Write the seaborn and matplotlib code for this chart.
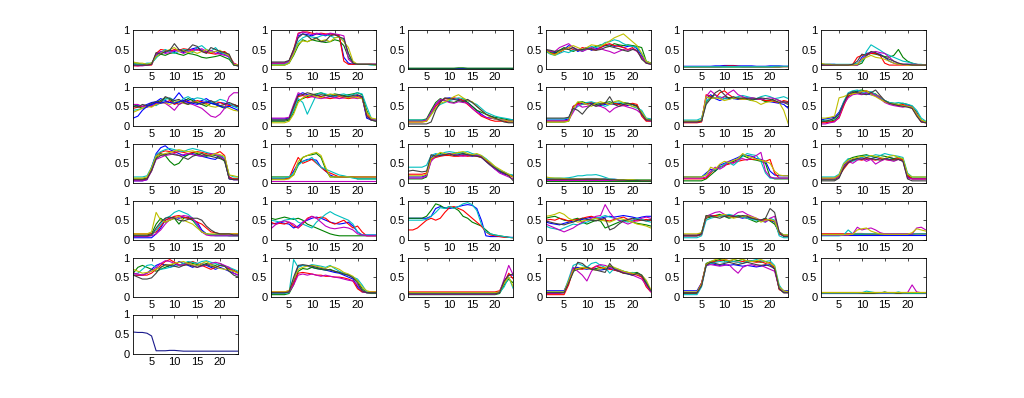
import numpy as np
import pandas as pd
import matplotlib
matplotlib.use('Agg')
import matplotlib.pyplot as plt
import seaborn as sns

#%% DATA
x_vals = list(range(1, 25))
x_ticks = [5, 10, 15, 20]
y_ticks = [0, 0.5, 1]
y_ticklabels = ['0', '0.5', '1']
# matlab default line order: b g r c m y k
line_colors = ['#0000ff', '#008000', '#ff0000', '#00bfbf', '#bf00bf', '#bfbf00', '#404040']

p01 = [
    [0.10,0.10,0.10,0.10,0.12,0.35,0.45,0.42,0.48,0.45,0.50,0.42,0.48,0.52,0.55,0.48,0.45,0.42,0.45,0.40,0.38,0.30,0.12,0.08],
    [0.15,0.15,0.12,0.12,0.15,0.30,0.38,0.35,0.40,0.42,0.38,0.35,0.40,0.38,0.35,0.30,0.28,0.30,0.32,0.35,0.30,0.25,0.10,0.08],
    [0.08,0.08,0.10,0.10,0.10,0.40,0.50,0.48,0.45,0.50,0.48,0.52,0.50,0.48,0.50,0.45,0.42,0.40,0.38,0.42,0.45,0.35,0.15,0.10],
    [0.12,0.12,0.12,0.15,0.15,0.28,0.42,0.50,0.45,0.40,0.45,0.50,0.48,0.42,0.55,0.60,0.50,0.45,0.55,0.42,0.40,0.30,0.12,0.10],
    [0.10,0.08,0.08,0.10,0.12,0.38,0.45,0.40,0.42,0.48,0.45,0.40,0.45,0.50,0.48,0.52,0.45,0.48,0.40,0.38,0.35,0.32,0.15,0.08],
    [0.18,0.15,0.15,0.12,0.15,0.32,0.40,0.45,0.50,0.55,0.45,0.48,0.42,0.45,0.40,0.45,0.50,0.42,0.45,0.48,0.40,0.35,0.12,0.10],
    [0.10,0.10,0.10,0.10,0.12,0.42,0.38,0.45,0.48,0.65,0.50,0.45,0.50,0.62,0.58,0.45,0.40,0.55,0.50,0.45,0.42,0.38,0.10,0.08],
]
p02 = [
    [0.15,0.15,0.15,0.15,0.20,0.45,0.85,0.90,0.88,0.85,0.90,0.88,0.85,0.90,0.88,0.85,0.30,0.15,0.12,0.12,0.12,0.12,0.12,0.12],
    [0.10,0.10,0.10,0.10,0.15,0.35,0.60,0.75,0.70,0.75,0.72,0.70,0.68,0.70,0.75,0.72,0.60,0.30,0.15,0.12,0.12,0.12,0.12,0.10],
    [0.15,0.15,0.15,0.15,0.20,0.50,0.92,0.95,0.95,0.92,0.90,0.92,0.90,0.90,0.88,0.85,0.20,0.12,0.12,0.12,0.12,0.12,0.12,0.12],
    [0.12,0.12,0.12,0.12,0.18,0.40,0.70,0.80,0.85,0.82,0.80,0.85,0.88,0.85,0.80,0.82,0.75,0.40,0.15,0.12,0.12,0.12,0.10,0.10],
    [0.15,0.15,0.15,0.15,0.20,0.45,0.90,0.95,0.92,0.88,0.92,0.90,0.88,0.92,0.90,0.88,0.85,0.25,0.15,0.12,0.12,0.12,0.12,0.12],
    [0.10,0.10,0.10,0.10,0.15,0.38,0.65,0.72,0.70,0.75,0.78,0.72,0.75,0.70,0.80,0.82,0.70,0.55,0.20,0.12,0.12,0.12,0.12,0.10],
    [0.18,0.18,0.18,0.18,0.22,0.50,0.80,0.90,0.85,0.75,0.80,0.70,0.72,0.85,0.88,0.82,0.78,0.40,0.15,0.12,0.12,0.12,0.12,0.12],
]
p03 = [
    [0.03,0.03,0.03,0.03,0.03,0.03,0.03,0.03,0.03,0.03,0.03,0.03,0.03,0.03,0.03,0.03,0.03,0.03,0.03,0.03,0.03,0.03,0.03,0.03],
    [0.02,0.02,0.02,0.02,0.02,0.02,0.02,0.02,0.02,0.02,0.02,0.03,0.03,0.02,0.02,0.02,0.02,0.02,0.02,0.02,0.02,0.02,0.02,0.02],
    [0.01,0.01,0.01,0.01,0.01,0.01,0.01,0.01,0.01,0.01,0.01,0.01,0.01,0.01,0.01,0.01,0.01,0.01,0.01,0.01,0.01,0.01,0.01,0.01],
]
p04 = [
    [0.48,0.45,0.42,0.45,0.50,0.60,0.55,0.45,0.50,0.55,0.48,0.52,0.55,0.60,0.62,0.58,0.60,0.55,0.58,0.60,0.52,0.35,0.18,0.15],
    [0.48,0.42,0.40,0.48,0.55,0.50,0.45,0.50,0.48,0.55,0.52,0.58,0.62,0.60,0.58,0.65,0.62,0.60,0.62,0.60,0.58,0.55,0.20,0.15],
    [0.45,0.40,0.38,0.42,0.50,0.55,0.50,0.48,0.55,0.52,0.50,0.48,0.55,0.62,0.65,0.60,0.58,0.55,0.50,0.55,0.45,0.30,0.15,0.15],
    [0.45,0.38,0.35,0.40,0.45,0.42,0.48,0.50,0.45,0.52,0.58,0.55,0.60,0.68,0.70,0.75,0.72,0.65,0.60,0.58,0.55,0.40,0.20,0.15],
    [0.50,0.45,0.45,0.55,0.60,0.65,0.55,0.50,0.45,0.50,0.55,0.50,0.52,0.48,0.45,0.40,0.45,0.50,0.48,0.52,0.45,0.30,0.15,0.12],
    [0.48,0.40,0.35,0.45,0.50,0.55,0.60,0.55,0.50,0.55,0.62,0.60,0.58,0.65,0.72,0.80,0.85,0.90,0.80,0.70,0.60,0.40,0.20,0.15],
    [0.50,0.48,0.45,0.48,0.52,0.50,0.55,0.48,0.50,0.52,0.50,0.48,0.50,0.55,0.58,0.55,0.52,0.48,0.45,0.50,0.48,0.25,0.15,0.12],
]
p05 = [
    [0.07,0.07,0.07,0.07,0.07,0.07,0.07,0.08,0.08,0.09,0.09,0.09,0.08,0.08,0.08,0.08,0.07,0.07,0.07,0.08,0.08,0.08,0.07,0.07],
    [0.05,0.05,0.05,0.05,0.05,0.05,0.05,0.05,0.05,0.05,0.05,0.05,0.05,0.05,0.05,0.05,0.05,0.05,0.05,0.05,0.05,0.05,0.06,0.06],
    [0.06,0.06,0.06,0.06,0.06,0.06,0.06,0.06,0.06,0.07,0.08,0.08,0.07,0.06,0.06,0.06,0.06,0.06,0.06,0.06,0.06,0.06,0.06,0.06],
    [0.06,0.06,0.06,0.06,0.06,0.06,0.06,0.06,0.06,0.06,0.06,0.06,0.06,0.06,0.06,0.06,0.06,0.06,0.06,0.06,0.07,0.07,0.07,0.07],
]
p06 = [
    [0.12,0.12,0.12,0.12,0.10,0.10,0.10,0.10,0.12,0.30,0.40,0.42,0.40,0.38,0.30,0.20,0.15,0.12,0.12,0.12,0.12,0.10,0.10,0.10],
    [0.10,0.10,0.10,0.10,0.10,0.10,0.10,0.10,0.10,0.15,0.35,0.40,0.38,0.35,0.32,0.30,0.35,0.50,0.30,0.20,0.15,0.12,0.10,0.10],
    [0.10,0.10,0.10,0.10,0.10,0.10,0.10,0.12,0.30,0.35,0.38,0.40,0.40,0.35,0.15,0.10,0.10,0.10,0.10,0.10,0.10,0.10,0.10,0.10],
    [0.12,0.12,0.12,0.12,0.12,0.12,0.12,0.12,0.15,0.20,0.45,0.62,0.55,0.48,0.40,0.35,0.30,0.25,0.20,0.18,0.15,0.12,0.12,0.10],
    [0.10,0.10,0.10,0.10,0.10,0.10,0.10,0.10,0.10,0.25,0.35,0.42,0.45,0.42,0.40,0.30,0.20,0.15,0.12,0.12,0.12,0.12,0.10,0.10],
    [0.15,0.12,0.12,0.10,0.10,0.10,0.10,0.10,0.12,0.25,0.30,0.35,0.30,0.28,0.25,0.20,0.15,0.12,0.12,0.10,0.10,0.10,0.10,0.10],
    [0.10,0.10,0.10,0.10,0.10,0.10,0.10,0.12,0.20,0.38,0.35,0.45,0.42,0.35,0.30,0.25,0.20,0.15,0.12,0.12,0.10,0.10,0.10,0.10],
]
p07 = [
    [0.50,0.52,0.50,0.55,0.60,0.62,0.70,0.65,0.60,0.70,0.85,0.70,0.65,0.70,0.60,0.65,0.70,0.62,0.55,0.60,0.58,0.55,0.50,0.52],
    [0.55,0.50,0.45,0.50,0.55,0.60,0.65,0.72,0.68,0.60,0.55,0.62,0.70,0.65,0.60,0.55,0.50,0.58,0.55,0.50,0.45,0.50,0.55,0.50],
    [0.45,0.48,0.50,0.52,0.50,0.58,0.62,0.60,0.65,0.55,0.60,0.65,0.62,0.60,0.65,0.62,0.58,0.60,0.62,0.60,0.55,0.52,0.55,0.50],
    [0.40,0.42,0.45,0.48,0.55,0.52,0.60,0.68,0.72,0.65,0.60,0.70,0.75,0.68,0.72,0.70,0.65,0.60,0.62,0.68,0.65,0.58,0.50,0.45],
    [0.55,0.55,0.50,0.48,0.52,0.55,0.60,0.58,0.50,0.40,0.55,0.60,0.58,0.55,0.50,0.45,0.35,0.25,0.22,0.30,0.45,0.75,0.85,0.85],
    [0.35,0.40,0.45,0.50,0.48,0.55,0.58,0.60,0.55,0.60,0.65,0.58,0.55,0.60,0.62,0.58,0.55,0.50,0.48,0.52,0.50,0.45,0.40,0.38],
    [0.50,0.48,0.55,0.52,0.58,0.62,0.60,0.75,0.70,0.65,0.68,0.60,0.55,0.62,0.58,0.55,0.60,0.65,0.58,0.52,0.55,0.60,0.55,0.50],
    [0.20,0.25,0.40,0.50,0.55,0.60,0.58,0.62,0.60,0.58,0.62,0.65,0.60,0.58,0.55,0.60,0.62,0.58,0.55,0.50,0.48,0.50,0.45,0.40],
]
p08 = [
    [0.18,0.18,0.18,0.18,0.20,0.50,0.80,0.85,0.80,0.78,0.80,0.75,0.78,0.80,0.75,0.78,0.75,0.72,0.75,0.78,0.75,0.20,0.15,0.15],
    [0.12,0.12,0.12,0.12,0.15,0.35,0.65,0.70,0.75,0.80,0.82,0.85,0.80,0.78,0.82,0.80,0.78,0.80,0.82,0.85,0.80,0.40,0.15,0.12],
    [0.15,0.15,0.15,0.15,0.18,0.45,0.75,0.78,0.72,0.75,0.78,0.75,0.72,0.70,0.72,0.75,0.72,0.70,0.72,0.75,0.72,0.30,0.18,0.15],
    [0.15,0.15,0.15,0.15,0.18,0.40,0.70,0.60,0.30,0.55,0.80,0.85,0.82,0.78,0.75,0.80,0.82,0.78,0.80,0.85,0.82,0.50,0.20,0.15],
    [0.20,0.20,0.20,0.20,0.22,0.55,0.85,0.80,0.78,0.75,0.72,0.70,0.72,0.75,0.72,0.70,0.72,0.75,0.72,0.70,0.72,0.25,0.15,0.15],
    [0.08,0.08,0.08,0.08,0.12,0.30,0.60,0.72,0.78,0.80,0.75,0.72,0.78,0.82,0.80,0.78,0.75,0.72,0.75,0.72,0.70,0.35,0.20,0.18],
    [0.15,0.15,0.15,0.15,0.18,0.50,0.78,0.80,0.85,0.82,0.78,0.80,0.78,0.75,0.78,0.80,0.76,0.75,0.78,0.80,0.75,0.25,0.15,0.12],
]
p09 = [
    [0.12,0.12,0.12,0.12,0.15,0.35,0.55,0.65,0.70,0.72,0.70,0.68,0.65,0.60,0.50,0.40,0.30,0.22,0.20,0.18,0.15,0.15,0.15,0.15],
    [0.15,0.15,0.15,0.15,0.18,0.40,0.60,0.70,0.65,0.62,0.60,0.65,0.70,0.60,0.50,0.40,0.35,0.30,0.25,0.22,0.20,0.18,0.15,0.15],
    [0.10,0.10,0.10,0.10,0.12,0.30,0.50,0.62,0.70,0.68,0.72,0.70,0.65,0.55,0.45,0.35,0.25,0.20,0.15,0.12,0.12,0.12,0.10,0.10],
    [0.15,0.15,0.15,0.15,0.15,0.30,0.45,0.55,0.60,0.65,0.68,0.72,0.70,0.65,0.60,0.55,0.45,0.35,0.30,0.25,0.22,0.20,0.18,0.15],
    [0.12,0.12,0.12,0.12,0.15,0.35,0.55,0.68,0.65,0.60,0.58,0.62,0.60,0.58,0.45,0.35,0.28,0.22,0.20,0.18,0.15,0.15,0.12,0.12],
    [0.10,0.10,0.10,0.10,0.12,0.28,0.45,0.58,0.62,0.68,0.75,0.80,0.72,0.65,0.62,0.50,0.40,0.30,0.22,0.18,0.15,0.15,0.12,0.12],
    [0.05,0.05,0.05,0.05,0.05,0.10,0.40,0.60,0.72,0.70,0.68,0.65,0.62,0.68,0.60,0.50,0.40,0.30,0.25,0.20,0.15,0.10,0.08,0.08],
]
p10 = [
    [0.15,0.15,0.15,0.15,0.15,0.18,0.50,0.55,0.58,0.55,0.58,0.55,0.52,0.55,0.58,0.55,0.58,0.55,0.52,0.55,0.50,0.30,0.15,0.15],
    [0.10,0.10,0.10,0.10,0.10,0.12,0.45,0.60,0.62,0.58,0.60,0.55,0.58,0.60,0.62,0.58,0.55,0.60,0.58,0.55,0.52,0.35,0.15,0.12],
    [0.12,0.12,0.12,0.12,0.12,0.15,0.50,0.58,0.55,0.58,0.60,0.58,0.55,0.58,0.55,0.58,0.55,0.52,0.55,0.58,0.55,0.25,0.12,0.12],
    [0.18,0.18,0.18,0.18,0.18,0.20,0.40,0.50,0.55,0.60,0.62,0.58,0.55,0.50,0.55,0.60,0.62,0.58,0.55,0.50,0.45,0.40,0.20,0.18],
    [0.12,0.12,0.12,0.12,0.12,0.15,0.35,0.55,0.48,0.50,0.55,0.52,0.50,0.45,0.35,0.45,0.50,0.52,0.48,0.45,0.40,0.30,0.15,0.12],
    [0.10,0.10,0.10,0.10,0.10,0.12,0.45,0.62,0.60,0.55,0.50,0.58,0.62,0.58,0.55,0.62,0.65,0.60,0.55,0.50,0.48,0.35,0.18,0.15],
    [0.20,0.20,0.20,0.20,0.20,0.22,0.45,0.40,0.30,0.45,0.55,0.50,0.55,0.58,0.75,0.55,0.50,0.55,0.58,0.55,0.50,0.30,0.15,0.15],
]
p11 = [
    [0.12,0.12,0.12,0.12,0.15,0.70,0.80,0.70,0.65,0.70,0.72,0.70,0.68,0.70,0.72,0.70,0.68,0.70,0.65,0.62,0.60,0.58,0.55,0.45],
    [0.10,0.10,0.10,0.10,0.12,0.60,0.75,0.80,0.70,0.75,0.72,0.70,0.72,0.70,0.68,0.65,0.70,0.68,0.62,0.65,0.70,0.65,0.60,0.55],
    [0.08,0.08,0.08,0.08,0.10,0.80,0.75,0.70,0.85,0.90,0.80,0.72,0.70,0.68,0.70,0.72,0.70,0.68,0.65,0.65,0.62,0.60,0.65,0.62],
    [0.15,0.15,0.15,0.15,0.20,0.65,0.70,0.72,0.75,0.70,0.68,0.72,0.75,0.78,0.75,0.72,0.70,0.75,0.78,0.75,0.70,0.72,0.75,0.70],
    [0.10,0.10,0.10,0.10,0.12,0.75,0.90,0.80,0.70,0.75,0.85,0.92,0.80,0.75,0.70,0.72,0.70,0.68,0.70,0.72,0.70,0.65,0.60,0.58],
    [0.12,0.12,0.12,0.12,0.15,0.75,0.70,0.72,0.70,0.65,0.68,0.72,0.70,0.68,0.70,0.65,0.62,0.55,0.60,0.62,0.65,0.60,0.40,0.05],
    [0.10,0.10,0.10,0.10,0.12,0.55,0.70,0.85,0.92,0.80,0.70,0.75,0.70,0.72,0.70,0.68,0.70,0.72,0.70,0.68,0.65,0.60,0.62,0.60],
]
p12 = [
    [0.15,0.18,0.20,0.22,0.35,0.60,0.80,0.85,0.88,0.85,0.82,0.80,0.78,0.70,0.62,0.58,0.55,0.55,0.52,0.55,0.48,0.30,0.12,0.10],
    [0.10,0.12,0.12,0.15,0.25,0.55,0.75,0.85,0.90,0.92,0.88,0.85,0.82,0.72,0.65,0.60,0.58,0.55,0.58,0.55,0.50,0.35,0.15,0.10],
    [0.08,0.08,0.10,0.12,0.20,0.50,0.78,0.82,0.85,0.88,0.90,0.85,0.80,0.75,0.62,0.58,0.55,0.52,0.55,0.50,0.45,0.28,0.10,0.08],
    [0.12,0.15,0.15,0.18,0.30,0.62,0.85,0.90,0.92,0.88,0.85,0.88,0.80,0.72,0.65,0.60,0.58,0.60,0.58,0.55,0.52,0.40,0.20,0.12],
    [0.05,0.05,0.08,0.10,0.22,0.55,0.72,0.80,0.82,0.80,0.85,0.82,0.78,0.70,0.60,0.55,0.52,0.50,0.48,0.52,0.48,0.32,0.12,0.08],
    [0.20,0.20,0.22,0.25,0.72,0.75,0.80,0.82,0.85,0.88,0.90,0.80,0.75,0.68,0.62,0.58,0.56,0.55,0.52,0.50,0.48,0.30,0.15,0.10],
    [0.12,0.12,0.15,0.20,0.30,0.58,0.82,0.88,0.85,0.82,0.80,0.85,0.92,0.78,0.65,0.58,0.55,0.52,0.50,0.48,0.45,0.25,0.10,0.08],
]
p13 = [
    [0.05,0.05,0.05,0.08,0.40,0.75,0.90,0.95,0.85,0.80,0.75,0.70,0.72,0.75,0.70,0.68,0.65,0.62,0.60,0.70,0.60,0.10,0.08,0.08],
    [0.10,0.10,0.10,0.12,0.30,0.65,0.75,0.70,0.55,0.45,0.50,0.65,0.72,0.78,0.75,0.70,0.68,0.72,0.70,0.65,0.55,0.12,0.10,0.10],
    [0.08,0.08,0.08,0.10,0.35,0.70,0.78,0.82,0.80,0.78,0.80,0.78,0.75,0.78,0.80,0.78,0.75,0.72,0.75,0.80,0.70,0.15,0.10,0.10],
    [0.15,0.15,0.15,0.18,0.40,0.72,0.80,0.85,0.88,0.85,0.82,0.80,0.85,0.88,0.85,0.82,0.78,0.75,0.72,0.70,0.65,0.20,0.15,0.15],
    [0.05,0.05,0.05,0.08,0.30,0.60,0.65,0.70,0.72,0.75,0.70,0.72,0.75,0.72,0.70,0.68,0.72,0.75,0.72,0.68,0.60,0.12,0.08,0.08],
    [0.12,0.12,0.12,0.15,0.38,0.68,0.72,0.75,0.78,0.82,0.85,0.82,0.80,0.82,0.78,0.75,0.72,0.70,0.75,0.72,0.68,0.20,0.18,0.15],
    [0.08,0.08,0.08,0.10,0.32,0.62,0.70,0.72,0.75,0.72,0.70,0.65,0.60,0.68,0.72,0.75,0.70,0.68,0.65,0.62,0.58,0.10,0.08,0.08],
]
p14 = [
    [0.10,0.10,0.10,0.10,0.12,0.30,0.50,0.55,0.60,0.60,0.58,0.40,0.30,0.20,0.15,0.15,0.15,0.15,0.15,0.15,0.15,0.15,0.15,0.15],
    [0.15,0.15,0.15,0.15,0.15,0.20,0.45,0.65,0.70,0.72,0.75,0.65,0.35,0.15,0.15,0.15,0.15,0.15,0.15,0.10,0.10,0.10,0.10,0.10],
    [0.10,0.10,0.10,0.10,0.12,0.40,0.65,0.50,0.55,0.60,0.50,0.40,0.30,0.25,0.20,0.15,0.15,0.15,0.15,0.15,0.15,0.15,0.15,0.15],
    [0.12,0.12,0.12,0.12,0.15,0.25,0.45,0.55,0.58,0.65,0.52,0.40,0.35,0.30,0.25,0.20,0.18,0.15,0.12,0.10,0.10,0.10,0.10,0.10],
    [0.05,0.05,0.05,0.05,0.05,0.05,0.05,0.05,0.05,0.05,0.05,0.05,0.05,0.05,0.05,0.05,0.05,0.05,0.05,0.05,0.05,0.05,0.05,0.05],
    [0.08,0.08,0.08,0.08,0.10,0.20,0.55,0.65,0.70,0.75,0.78,0.70,0.40,0.15,0.15,0.15,0.15,0.15,0.15,0.15,0.15,0.15,0.15,0.15],
]
p15 = [
    [0.15,0.15,0.15,0.15,0.20,0.65,0.72,0.70,0.72,0.75,0.72,0.70,0.72,0.70,0.68,0.70,0.65,0.55,0.45,0.35,0.28,0.22,0.20,0.18],
    [0.10,0.10,0.10,0.10,0.15,0.60,0.70,0.75,0.72,0.70,0.75,0.78,0.75,0.72,0.70,0.72,0.68,0.60,0.48,0.38,0.30,0.25,0.20,0.15],
    [0.22,0.22,0.22,0.22,0.25,0.60,0.65,0.68,0.70,0.70,0.68,0.68,0.70,0.68,0.70,0.68,0.65,0.58,0.50,0.40,0.32,0.25,0.20,0.15],
    [0.40,0.40,0.40,0.40,0.45,0.70,0.75,0.72,0.78,0.80,0.78,0.75,0.78,0.80,0.75,0.72,0.70,0.62,0.52,0.40,0.32,0.28,0.22,0.20],
    [0.12,0.12,0.12,0.12,0.18,0.55,0.68,0.70,0.72,0.75,0.72,0.70,0.68,0.70,0.72,0.70,0.68,0.55,0.45,0.35,0.25,0.20,0.15,0.10],
    [0.18,0.18,0.18,0.18,0.22,0.62,0.70,0.78,0.75,0.72,0.75,0.78,0.80,0.75,0.72,0.75,0.70,0.60,0.52,0.42,0.35,0.28,0.22,0.15],
    [0.30,0.32,0.30,0.28,0.30,0.72,0.68,0.70,0.72,0.74,0.70,0.72,0.75,0.72,0.70,0.68,0.66,0.55,0.45,0.38,0.30,0.25,0.18,0.05],
]
p16 = [
    [0.10,0.10,0.10,0.10,0.10,0.10,0.10,0.10,0.10,0.11,0.11,0.11,0.10,0.10,0.09,0.09,0.08,0.08,0.08,0.08,0.08,0.08,0.08,0.08],
    [0.05,0.05,0.05,0.05,0.05,0.05,0.05,0.05,0.05,0.05,0.05,0.05,0.05,0.05,0.05,0.05,0.05,0.05,0.05,0.05,0.05,0.05,0.05,0.05],
    [0.08,0.08,0.08,0.08,0.08,0.08,0.08,0.08,0.08,0.08,0.08,0.08,0.08,0.07,0.07,0.07,0.07,0.07,0.07,0.08,0.07,0.07,0.07,0.07],
    [0.12,0.12,0.12,0.12,0.12,0.13,0.15,0.18,0.18,0.20,0.20,0.21,0.18,0.14,0.10,0.09,0.08,0.08,0.08,0.08,0.08,0.08,0.08,0.08],
    [0.06,0.06,0.06,0.06,0.06,0.06,0.06,0.06,0.06,0.06,0.06,0.06,0.06,0.06,0.06,0.06,0.06,0.06,0.06,0.06,0.06,0.06,0.06,0.06],
    [0.15,0.13,0.12,0.12,0.11,0.10,0.10,0.10,0.10,0.10,0.10,0.10,0.10,0.09,0.09,0.08,0.08,0.08,0.08,0.08,0.07,0.07,0.07,0.07],
    [0.09,0.09,0.09,0.09,0.09,0.09,0.09,0.09,0.09,0.09,0.09,0.09,0.09,0.09,0.08,0.08,0.07,0.07,0.06,0.06,0.06,0.05,0.05,0.05],
]
p17 = [
    [0.15,0.15,0.15,0.15,0.15,0.25,0.35,0.30,0.45,0.50,0.55,0.60,0.65,0.72,0.70,0.68,0.62,0.60,0.55,0.30,0.20,0.18,0.18,0.18],
    [0.05,0.05,0.05,0.05,0.05,0.10,0.20,0.30,0.40,0.45,0.50,0.55,0.60,0.70,0.65,0.60,0.58,0.55,0.50,0.15,0.10,0.10,0.10,0.10],
    [0.10,0.10,0.10,0.10,0.10,0.12,0.25,0.35,0.40,0.45,0.48,0.52,0.55,0.58,0.60,0.60,0.60,0.58,0.55,0.60,0.25,0.12,0.12,0.12],
    [0.15,0.15,0.15,0.15,0.15,0.22,0.28,0.35,0.38,0.48,0.52,0.45,0.55,0.68,0.75,0.72,0.70,0.55,0.25,0.12,0.12,0.12,0.12,0.12],
    [0.12,0.12,0.12,0.12,0.12,0.15,0.30,0.40,0.35,0.42,0.55,0.50,0.60,0.62,0.58,0.65,0.70,0.78,0.30,0.15,0.12,0.12,0.12,0.12],
    [0.15,0.15,0.15,0.15,0.15,0.20,0.40,0.35,0.48,0.55,0.52,0.58,0.62,0.75,0.68,0.65,0.60,0.58,0.55,0.50,0.30,0.20,0.18,0.18],
]
p18 = [
    [0.10,0.10,0.10,0.10,0.20,0.45,0.55,0.60,0.62,0.65,0.60,0.62,0.65,0.62,0.60,0.65,0.62,0.60,0.58,0.15,0.10,0.10,0.10,0.10],
    [0.08,0.08,0.08,0.08,0.15,0.40,0.60,0.65,0.68,0.70,0.72,0.68,0.65,0.70,0.68,0.65,0.62,0.65,0.60,0.20,0.12,0.12,0.12,0.12],
    [0.12,0.12,0.12,0.12,0.18,0.35,0.50,0.58,0.60,0.58,0.62,0.60,0.58,0.62,0.60,0.58,0.60,0.62,0.58,0.18,0.10,0.10,0.10,0.10],
    [0.15,0.15,0.15,0.15,0.22,0.50,0.62,0.55,0.60,0.65,0.70,0.68,0.72,0.70,0.75,0.72,0.70,0.68,0.65,0.25,0.15,0.15,0.15,0.15],
    [0.10,0.10,0.10,0.10,0.15,0.42,0.55,0.50,0.58,0.62,0.55,0.60,0.48,0.55,0.60,0.58,0.55,0.60,0.55,0.12,0.10,0.10,0.10,0.10],
    [0.12,0.12,0.12,0.12,0.20,0.48,0.58,0.62,0.65,0.68,0.65,0.70,0.68,0.65,0.62,0.68,0.70,0.65,0.62,0.22,0.15,0.15,0.15,0.15],
    [0.05,0.05,0.05,0.05,0.12,0.38,0.52,0.58,0.62,0.60,0.65,0.62,0.60,0.58,0.62,0.60,0.58,0.60,0.55,0.10,0.05,0.05,0.05,0.05],
]
p19 = [
    [0.05,0.05,0.05,0.05,0.05,0.15,0.30,0.50,0.55,0.58,0.55,0.58,0.55,0.50,0.45,0.25,0.15,0.12,0.12,0.12,0.12,0.12,0.12,0.12],
    [0.12,0.12,0.12,0.12,0.15,0.40,0.55,0.45,0.50,0.55,0.40,0.55,0.58,0.50,0.35,0.20,0.15,0.12,0.12,0.12,0.12,0.10,0.10,0.10],
    [0.15,0.15,0.15,0.15,0.15,0.20,0.35,0.50,0.55,0.60,0.62,0.58,0.55,0.52,0.45,0.40,0.30,0.20,0.18,0.15,0.15,0.15,0.15,0.15],
    [0.10,0.10,0.10,0.10,0.12,0.25,0.40,0.55,0.60,0.70,0.75,0.70,0.65,0.55,0.35,0.20,0.15,0.12,0.10,0.10,0.10,0.10,0.10,0.10],
    [0.08,0.08,0.08,0.08,0.10,0.15,0.25,0.40,0.52,0.55,0.58,0.62,0.60,0.55,0.40,0.20,0.12,0.10,0.10,0.10,0.10,0.10,0.10,0.10],
    [0.15,0.15,0.15,0.15,0.20,0.70,0.50,0.45,0.50,0.55,0.60,0.50,0.45,0.40,0.30,0.20,0.15,0.15,0.15,0.15,0.15,0.15,0.15,0.15],
    [0.10,0.10,0.10,0.10,0.12,0.30,0.45,0.55,0.58,0.55,0.50,0.48,0.52,0.55,0.55,0.50,0.35,0.25,0.18,0.15,0.15,0.15,0.12,0.12],
]
p20 = [
    [0.40,0.42,0.45,0.42,0.40,0.30,0.35,0.45,0.50,0.55,0.58,0.55,0.50,0.45,0.42,0.40,0.42,0.45,0.35,0.20,0.12,0.12,0.12,0.12],
    [0.55,0.52,0.55,0.58,0.55,0.52,0.55,0.50,0.40,0.35,0.30,0.25,0.20,0.15,0.12,0.10,0.10,0.10,0.10,0.10,0.10,0.10,0.10,0.10],
    [0.45,0.40,0.42,0.40,0.45,0.35,0.30,0.40,0.55,0.60,0.55,0.58,0.55,0.45,0.40,0.45,0.50,0.40,0.30,0.35,0.20,0.10,0.10,0.10],
    [0.50,0.48,0.45,0.50,0.52,0.55,0.45,0.40,0.35,0.30,0.45,0.55,0.65,0.72,0.65,0.60,0.55,0.50,0.40,0.20,0.12,0.12,0.12,0.12],
    [0.28,0.38,0.45,0.48,0.45,0.40,0.30,0.45,0.52,0.60,0.55,0.45,0.35,0.30,0.28,0.30,0.32,0.30,0.25,0.15,0.12,0.10,0.10,0.10],
]
p21 = [
    [0.55,0.55,0.55,0.55,0.55,0.60,0.80,0.85,0.82,0.80,0.82,0.85,0.88,0.90,0.88,0.80,0.50,0.10,0.08,0.08,0.08,0.08,0.06,0.06],
    [0.55,0.55,0.55,0.55,0.60,0.75,0.92,0.88,0.80,0.85,0.82,0.75,0.60,0.55,0.45,0.40,0.35,0.25,0.15,0.12,0.10,0.08,0.06,0.05],
    [0.25,0.25,0.30,0.40,0.50,0.55,0.50,0.55,0.70,0.82,0.85,0.80,0.75,0.65,0.55,0.45,0.35,0.20,0.12,0.10,0.08,0.06,0.06,0.05],
    [0.50,0.50,0.50,0.50,0.52,0.60,0.70,0.82,0.80,0.85,0.80,0.85,0.92,0.95,0.90,0.75,0.40,0.20,0.15,0.12,0.10,0.08,0.06,0.05],
]
p22 = [
    [0.45,0.42,0.40,0.38,0.42,0.45,0.48,0.50,0.52,0.55,0.58,0.56,0.55,0.58,0.60,0.58,0.60,0.62,0.60,0.58,0.55,0.58,0.60,0.60],
    [0.55,0.58,0.60,0.55,0.50,0.48,0.52,0.55,0.45,0.40,0.45,0.50,0.48,0.30,0.35,0.40,0.45,0.50,0.48,0.45,0.42,0.40,0.38,0.35],
    [0.50,0.52,0.50,0.55,0.52,0.48,0.50,0.52,0.55,0.58,0.60,0.55,0.52,0.50,0.48,0.52,0.55,0.58,0.52,0.50,0.48,0.50,0.52,0.50],
    [0.35,0.30,0.28,0.25,0.30,0.35,0.40,0.38,0.42,0.45,0.50,0.55,0.58,0.62,0.58,0.55,0.50,0.48,0.45,0.50,0.55,0.52,0.48,0.45],
    [0.40,0.35,0.30,0.25,0.20,0.25,0.30,0.38,0.45,0.50,0.55,0.60,0.62,0.90,0.70,0.55,0.50,0.45,0.40,0.45,0.50,0.55,0.58,0.55],
    [0.60,0.62,0.65,0.70,0.65,0.55,0.50,0.45,0.48,0.50,0.52,0.55,0.50,0.48,0.45,0.50,0.55,0.52,0.48,0.45,0.40,0.38,0.35,0.30],
    [0.48,0.45,0.42,0.40,0.38,0.42,0.45,0.50,0.55,0.52,0.50,0.48,0.52,0.55,0.25,0.30,0.40,0.48,0.52,0.55,0.52,0.50,0.48,0.52],
]
p23 = [
    [0.10,0.10,0.10,0.10,0.15,0.60,0.62,0.60,0.62,0.60,0.58,0.60,0.58,0.55,0.58,0.55,0.52,0.50,0.48,0.50,0.45,0.15,0.10,0.10],
    [0.12,0.12,0.12,0.12,0.18,0.55,0.58,0.62,0.65,0.60,0.55,0.58,0.62,0.60,0.55,0.50,0.45,0.50,0.55,0.48,0.40,0.20,0.12,0.12],
    [0.10,0.10,0.10,0.10,0.12,0.58,0.60,0.62,0.60,0.62,0.60,0.58,0.60,0.58,0.55,0.55,0.52,0.50,0.52,0.50,0.48,0.15,0.10,0.10],
    [0.05,0.05,0.05,0.05,0.10,0.50,0.55,0.58,0.60,0.62,0.65,0.62,0.60,0.58,0.55,0.52,0.50,0.48,0.45,0.55,0.50,0.10,0.05,0.05],
    [0.12,0.12,0.12,0.12,0.15,0.60,0.65,0.70,0.72,0.65,0.60,0.62,0.70,0.72,0.65,0.60,0.55,0.50,0.45,0.55,0.60,0.20,0.10,0.10],
    [0.15,0.15,0.15,0.15,0.18,0.62,0.60,0.58,0.62,0.65,0.60,0.55,0.58,0.60,0.62,0.58,0.55,0.45,0.50,0.52,0.48,0.18,0.12,0.12],
    [0.10,0.10,0.10,0.10,0.15,0.62,0.60,0.58,0.55,0.60,0.62,0.60,0.58,0.62,0.60,0.55,0.52,0.50,0.55,0.80,0.70,0.20,0.08,0.08],
]
p24 = [
    [0.12,0.12,0.12,0.12,0.12,0.12,0.12,0.12,0.12,0.12,0.12,0.12,0.12,0.12,0.12,0.12,0.12,0.12,0.12,0.12,0.12,0.12,0.12,0.12],
    [0.14,0.14,0.14,0.14,0.14,0.14,0.14,0.14,0.14,0.14,0.14,0.14,0.14,0.14,0.14,0.14,0.14,0.14,0.14,0.14,0.14,0.15,0.15,0.15],
    [0.15,0.15,0.15,0.15,0.15,0.15,0.15,0.15,0.16,0.16,0.15,0.15,0.15,0.15,0.15,0.15,0.15,0.15,0.15,0.15,0.15,0.15,0.15,0.15],
    [0.10,0.10,0.10,0.10,0.10,0.12,0.25,0.15,0.15,0.15,0.15,0.15,0.15,0.15,0.15,0.15,0.15,0.15,0.15,0.15,0.15,0.15,0.15,0.15],
    [0.12,0.12,0.12,0.12,0.12,0.12,0.12,0.15,0.32,0.25,0.28,0.30,0.25,0.18,0.15,0.15,0.15,0.15,0.15,0.15,0.15,0.30,0.32,0.25],
    [0.13,0.13,0.13,0.13,0.13,0.13,0.13,0.14,0.25,0.28,0.30,0.22,0.18,0.15,0.14,0.14,0.14,0.14,0.14,0.14,0.18,0.28,0.25,0.22],
]
p25 = [
    [0.55,0.55,0.55,0.60,0.70,0.80,0.85,0.80,0.75,0.80,0.90,0.85,0.80,0.75,0.80,0.85,0.80,0.75,0.70,0.75,0.70,0.65,0.60,0.55],
    [0.60,0.75,0.80,0.75,0.70,0.65,0.70,0.75,0.80,0.85,0.80,0.85,0.88,0.85,0.82,0.80,0.85,0.82,0.80,0.85,0.78,0.70,0.65,0.62],
    [0.55,0.55,0.55,0.55,0.60,0.70,0.80,0.90,0.95,0.88,0.82,0.80,0.85,0.90,0.85,0.80,0.75,0.70,0.75,0.80,0.78,0.72,0.68,0.60],
    [0.58,0.60,0.70,0.80,0.82,0.75,0.70,0.72,0.75,0.78,0.80,0.85,0.90,0.88,0.85,0.90,0.92,0.88,0.85,0.80,0.78,0.75,0.70,0.65],
    [0.60,0.58,0.55,0.60,0.65,0.75,0.85,0.92,0.90,0.85,0.80,0.82,0.85,0.80,0.75,0.78,0.82,0.85,0.88,0.85,0.80,0.75,0.60,0.55],
    [0.70,0.65,0.60,0.62,0.65,0.70,0.75,0.80,0.82,0.85,0.88,0.90,0.85,0.82,0.80,0.85,0.90,0.82,0.75,0.72,0.70,0.68,0.65,0.60],
    [0.55,0.50,0.45,0.45,0.48,0.60,0.75,0.82,0.80,0.78,0.75,0.80,0.82,0.78,0.75,0.80,0.82,0.78,0.75,0.80,0.78,0.65,0.55,0.50],
]
p26 = [
    [0.10,0.10,0.10,0.10,0.12,0.40,0.78,0.80,0.78,0.75,0.72,0.70,0.68,0.65,0.62,0.60,0.55,0.50,0.45,0.25,0.12,0.10,0.10,0.10],
    [0.05,0.05,0.05,0.05,0.08,0.30,0.65,0.72,0.70,0.75,0.72,0.70,0.68,0.70,0.65,0.62,0.58,0.55,0.50,0.40,0.20,0.10,0.08,0.08],
    [0.12,0.12,0.12,0.12,0.15,0.35,0.60,0.62,0.60,0.58,0.55,0.55,0.52,0.52,0.50,0.50,0.48,0.45,0.40,0.20,0.12,0.12,0.12,0.12],
    [0.08,0.08,0.08,0.08,0.10,0.95,0.75,0.80,0.78,0.82,0.80,0.78,0.75,0.80,0.72,0.65,0.60,0.55,0.50,0.45,0.30,0.12,0.10,0.10],
    [0.10,0.10,0.10,0.10,0.12,0.30,0.55,0.58,0.55,0.58,0.55,0.52,0.55,0.52,0.50,0.48,0.45,0.42,0.40,0.30,0.15,0.10,0.10,0.10],
    [0.12,0.12,0.12,0.12,0.15,0.45,0.70,0.75,0.78,0.80,0.78,0.75,0.72,0.78,0.75,0.70,0.62,0.58,0.52,0.40,0.25,0.15,0.12,0.12],
    [0.10,0.10,0.10,0.10,0.12,0.50,0.80,0.82,0.80,0.78,0.75,0.72,0.70,0.68,0.65,0.62,0.58,0.55,0.48,0.35,0.15,0.10,0.10,0.10],
]
p27 = [
    [0.10,0.10,0.10,0.10,0.10,0.10,0.10,0.10,0.10,0.10,0.10,0.10,0.10,0.10,0.10,0.10,0.10,0.10,0.10,0.10,0.12,0.40,0.55,0.55],
    [0.05,0.05,0.05,0.05,0.05,0.05,0.05,0.05,0.05,0.05,0.05,0.05,0.05,0.05,0.05,0.05,0.05,0.05,0.05,0.05,0.08,0.30,0.45,0.35],
    [0.12,0.12,0.12,0.12,0.12,0.12,0.12,0.12,0.12,0.12,0.12,0.12,0.12,0.12,0.12,0.12,0.12,0.12,0.12,0.12,0.15,0.35,0.60,0.45],
    [0.08,0.08,0.08,0.08,0.08,0.08,0.08,0.08,0.08,0.08,0.08,0.08,0.08,0.08,0.08,0.08,0.08,0.08,0.08,0.08,0.10,0.25,0.50,0.20],
    [0.06,0.06,0.06,0.06,0.06,0.06,0.06,0.06,0.06,0.06,0.06,0.06,0.06,0.06,0.06,0.06,0.06,0.06,0.06,0.06,0.12,0.45,0.80,0.55],
    [0.10,0.10,0.10,0.10,0.10,0.10,0.10,0.10,0.10,0.10,0.10,0.10,0.10,0.10,0.10,0.10,0.10,0.10,0.10,0.10,0.12,0.35,0.50,0.25],
    [0.07,0.07,0.07,0.07,0.07,0.07,0.07,0.07,0.07,0.07,0.07,0.07,0.07,0.07,0.07,0.07,0.07,0.07,0.07,0.07,0.10,0.40,0.55,0.58],
]
p28 = [
    [0.15,0.15,0.15,0.15,0.15,0.40,0.72,0.75,0.72,0.70,0.72,0.70,0.68,0.70,0.72,0.68,0.65,0.62,0.58,0.55,0.58,0.52,0.35,0.15],
    [0.10,0.10,0.10,0.10,0.10,0.35,0.65,0.70,0.72,0.75,0.70,0.72,0.75,0.70,0.78,0.72,0.68,0.65,0.62,0.60,0.62,0.55,0.30,0.15],
    [0.05,0.05,0.05,0.05,0.05,0.30,0.70,0.72,0.70,0.75,0.72,0.78,0.75,0.72,0.70,0.68,0.65,0.60,0.62,0.58,0.55,0.50,0.25,0.12],
    [0.12,0.12,0.12,0.12,0.12,0.45,0.80,0.85,0.80,0.75,0.85,0.88,0.80,0.75,0.60,0.72,0.70,0.65,0.60,0.62,0.58,0.55,0.40,0.15],
    [0.08,0.08,0.08,0.08,0.10,0.38,0.75,0.65,0.55,0.40,0.65,0.78,0.82,0.80,0.75,0.70,0.68,0.62,0.60,0.55,0.50,0.45,0.30,0.12],
    [0.12,0.12,0.12,0.12,0.12,0.40,0.68,0.72,0.75,0.72,0.70,0.68,0.72,0.75,0.80,0.75,0.70,0.65,0.62,0.60,0.58,0.55,0.42,0.18],
    [0.10,0.10,0.10,0.10,0.10,0.35,0.62,0.88,0.85,0.75,0.70,0.68,0.65,0.62,0.85,0.70,0.65,0.60,0.58,0.55,0.60,0.55,0.35,0.15],
]
p29 = [
    [0.15,0.15,0.15,0.15,0.35,0.80,0.85,0.82,0.80,0.82,0.80,0.82,0.80,0.78,0.80,0.78,0.76,0.78,0.80,0.82,0.70,0.25,0.15,0.15],
    [0.08,0.08,0.08,0.08,0.30,0.85,0.90,0.92,0.95,0.92,0.90,0.95,0.92,0.95,0.90,0.92,0.90,0.88,0.90,0.85,0.75,0.20,0.10,0.10],
    [0.10,0.10,0.10,0.10,0.35,0.82,0.88,0.90,0.92,0.95,0.92,0.90,0.88,0.90,0.92,0.90,0.88,0.90,0.85,0.88,0.72,0.18,0.12,0.12],
    [0.05,0.05,0.05,0.05,0.25,0.78,0.85,0.88,0.90,0.88,0.92,0.90,0.88,0.85,0.90,0.92,0.95,0.92,0.90,0.92,0.80,0.30,0.12,0.10],
    [0.10,0.10,0.10,0.10,0.30,0.80,0.82,0.80,0.78,0.80,0.82,0.70,0.60,0.75,0.80,0.82,0.78,0.80,0.75,0.70,0.65,0.22,0.10,0.10],
    [0.12,0.12,0.12,0.12,0.32,0.82,0.90,0.95,0.98,0.95,0.92,0.95,0.98,0.95,0.92,0.90,0.92,0.95,0.90,0.85,0.78,0.25,0.15,0.12],
    [0.10,0.10,0.10,0.10,0.28,0.80,0.88,0.85,0.82,0.85,0.88,0.85,0.82,0.85,0.88,0.85,0.82,0.80,0.82,0.78,0.72,0.20,0.10,0.10],
]
p30 = [
    [0.10,0.10,0.10,0.10,0.10,0.10,0.10,0.10,0.10,0.10,0.10,0.10,0.10,0.10,0.10,0.10,0.10,0.10,0.10,0.10,0.10,0.10,0.10,0.10],
    [0.08,0.08,0.08,0.08,0.08,0.08,0.08,0.08,0.08,0.08,0.08,0.08,0.08,0.09,0.12,0.09,0.08,0.08,0.08,0.08,0.08,0.08,0.08,0.08],
    [0.11,0.11,0.11,0.11,0.11,0.11,0.11,0.11,0.11,0.11,0.11,0.11,0.11,0.11,0.11,0.11,0.11,0.11,0.11,0.11,0.11,0.11,0.11,0.11],
    [0.09,0.09,0.09,0.09,0.09,0.09,0.09,0.09,0.09,0.10,0.14,0.12,0.10,0.09,0.09,0.09,0.09,0.12,0.09,0.09,0.09,0.09,0.09,0.09],
    [0.10,0.10,0.10,0.10,0.10,0.10,0.10,0.10,0.10,0.10,0.10,0.10,0.10,0.10,0.10,0.10,0.10,0.10,0.10,0.10,0.30,0.12,0.10,0.10],
    [0.12,0.12,0.12,0.12,0.12,0.12,0.12,0.12,0.12,0.12,0.12,0.12,0.12,0.12,0.12,0.12,0.12,0.12,0.12,0.12,0.12,0.12,0.12,0.12],
]
p31 = [
    [0.55,0.54,0.54,0.52,0.45,0.07,0.07,0.07,0.08,0.08,0.07,0.06,0.06,0.06,0.06,0.06,0.06,0.06,0.06,0.06,0.06,0.06,0.06,0.06],
]
panels = [p01, p02, p03, p04, p05, p06, p07, p08, p09, p10, p11, p12, p13, p14, p15, p16,
          p17, p18, p19, p20, p21, p22, p23, p24, p25, p26, p27, p28, p29, p30, p31]

#%% STYLE
sns.set_theme(style='white', rc={'axes.edgecolor': 'black', 'axes.linewidth': 0.6})
plt.rcParams['font.family'] = ['Liberation Sans', 'DejaVu Sans']

#%% PLOT
fig = plt.figure(figsize=(10.24, 3.98), dpi=100)
W, H = 1024, 398
for i, lines in enumerate(panels):
    r, c = divmod(i, 6)
    left = 133.3 + 137.5 * c
    top = 30 + 56.9 * r
    ax = fig.add_axes([left / W, 1 - (top + 39) / H, 105 / W, 39 / H])
    names = [f'L{k}' for k in range(len(lines))]
    df = pd.DataFrame({'x': x_vals * len(lines),
                       'y': [v for ln in lines for v in ln],
                       'line': np.repeat(names, len(x_vals))})
    pal = line_colors if len(lines) > 1 else ['#1a1a8c']
    sns.lineplot(data=df, x='x', y='y', hue='line', hue_order=names,
                 palette=[pal[k % len(pal)] for k in range(len(lines))],
                 legend=False, errorbar=None, linewidth=0.8, ax=ax)
    ax.set_xlim(1, 24)
    ax.set_ylim(0, 1)
    ax.set_xticks(x_ticks)
    ax.set_yticks(y_ticks)
    ax.set_yticklabels(y_ticklabels)
    ax.set_xlabel('')
    ax.set_ylabel('')
    ax.tick_params(direction='in', top=True, right=True, length=2.5, width=0.5,
                   labelsize=8, pad=2.5, colors='black')
    for s in ax.spines.values():
        s.set_color('black')
        s.set_linewidth(0.6)

fig.savefig('out.png', dpi=100, facecolor='white')
